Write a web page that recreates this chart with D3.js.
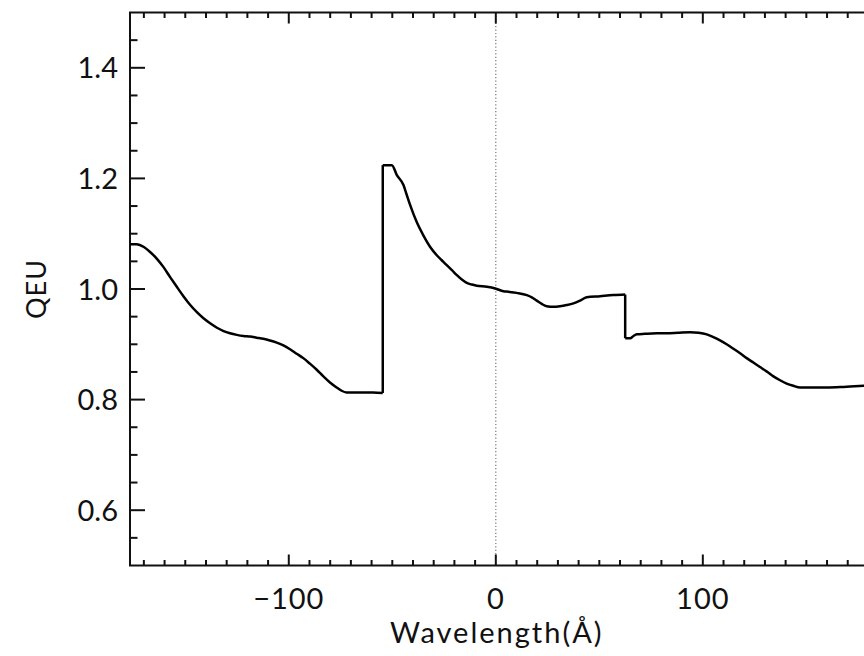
<!DOCTYPE html>
<html>
<head>
<meta charset="utf-8">
<script src="https://cdn.jsdelivr.net/npm/d3@7"></script>
<style>
  html, body { margin: 0; padding: 0; background: #fff; }
  svg { display: block; }
  text { font-family: Lato, "DejaVu Sans", sans-serif; fill: #111; }
</style>
</head>
<body>
<div class="chart"></div>
<script>
// QEU curve, in three pieces split at the two jumps
var seg1 = [
  [-176.6, 1.081], [-173.5, 1.081], [-170.0, 1.076], [-167.0, 1.067], [-163.8, 1.055],
  [-160.6, 1.040], [-157.4, 1.022], [-154.1, 1.004], [-150.9, 0.987], [-147.6, 0.971],
  [-144.4, 0.958], [-141.2, 0.947], [-138.0, 0.938], [-134.7, 0.930], [-131.5, 0.924],
  [-128.4, 0.920], [-125.1, 0.917], [-121.9, 0.915], [-118.7, 0.914], [-115.5, 0.912],
  [-112.3, 0.910], [-109.1, 0.907], [-105.8, 0.903], [-102.6, 0.898], [-99.4, 0.891],
  [-96.2, 0.883], [-93.0, 0.875], [-89.8, 0.865], [-86.5, 0.854], [-83.3, 0.842],
  [-80.1, 0.831], [-76.9, 0.822], [-74.5, 0.816], [-72.1, 0.813], [-68.0, 0.813],
  [-64.0, 0.813], [-59.3, 0.813], [-54.6, 0.812]
];
var seg2 = [
  [-54.6, 1.224], [-50.2, 1.224], [-47.8, 1.206], [-44.6, 1.188], [-43.0, 1.170],
  [-41.4, 1.152], [-38.2, 1.121], [-35.0, 1.097], [-31.7, 1.076], [-28.5, 1.061],
  [-26.1, 1.052], [-23.7, 1.043], [-21.2, 1.034], [-18.8, 1.025], [-16.4, 1.017],
  [-14.0, 1.011], [-11.6, 1.008], [-9.2, 1.006], [-4.3, 1.004], [-0.3, 1.001],
  [3.7, 0.996], [6.1, 0.995], [10.1, 0.993], [15.0, 0.989], [17.4, 0.985],
  [19.8, 0.979], [22.2, 0.973], [24.6, 0.969], [27.8, 0.968], [31.0, 0.969],
  [34.2, 0.971], [37.5, 0.974], [40.7, 0.979], [43.9, 0.985], [50.4, 0.987],
  [56.8, 0.989], [62.5, 0.990]
];
var seg3 = [
  [62.5, 0.911], [64.9, 0.911], [66.5, 0.915], [68.1, 0.918], [72.0, 0.919],
  [77.8, 0.920], [82.6, 0.920], [88.0, 0.921], [93.9, 0.922], [98.0, 0.921],
  [101.9, 0.918], [105.1, 0.913], [108.3, 0.907], [111.5, 0.900], [114.8, 0.892],
  [118.0, 0.884], [121.2, 0.875], [124.4, 0.867], [127.6, 0.859], [130.8, 0.851],
  [134.1, 0.842], [137.3, 0.835], [140.5, 0.829], [143.7, 0.825], [147.0, 0.822],
  [153.0, 0.822], [159.9, 0.822], [168.0, 0.823], [177.6, 0.825], [182.0, 0.826]
];
var segments = [seg1, seg2, seg3];

var xTicks = [-100, 0, 100];
var yTicks = [0.6, 0.8, 1.0, 1.2, 1.4];
var xLabel = "Wavelength(\u00c5)";
var yLabel = "QEU";

var width = 864, height = 656;
// right edge of the frame lies just outside the picture
var plot = { left: 130, right: 885, top: 12.5, bottom: 565.5 };

var x = d3.scaleLinear().domain([-176.7, 188]).range([plot.left, plot.right]);
var y = d3.scaleLinear().domain([0.5, 1.5]).range([plot.bottom, plot.top]);

var svg = d3.select(".chart").append("svg")
  .attr("width", width)
  .attr("height", height);

var pw = plot.right - plot.left, ph = plot.bottom - plot.top;
var xMajorLen = 11, yMajorLen = 15;

// zero line
svg.append("line")
  .attr("x1", x(0)).attr("x2", x(0))
  .attr("y1", plot.top).attr("y2", plot.bottom)
  .attr("stroke", "#777")
  .attr("stroke-width", 1.2)
  .attr("stroke-dasharray", "1.2,2.2");

// ticks: major + minor (x every 10, y every 0.05)
var xMinor = d3.range(-170, 190, 10);
var yMinor = d3.range(0.55, 1.5, 0.05);
var ticks = svg.append("g").attr("stroke", "#111").attr("stroke-width", 2);

xMinor.forEach(function(v) {
  var len = (Math.abs(v) % 100 === 0) ? xMajorLen : xMajorLen / 2;
  ticks.append("line").attr("x1", x(v)).attr("x2", x(v))
    .attr("y1", plot.bottom).attr("y2", plot.bottom - len);
  ticks.append("line").attr("x1", x(v)).attr("x2", x(v))
    .attr("y1", plot.top).attr("y2", plot.top + len);
});
yMinor.forEach(function(v) {
  var major = yTicks.some(function(t) { return Math.abs(t - v) < 1e-6; });
  var len = major ? yMajorLen : yMajorLen / 2;
  ticks.append("line").attr("y1", y(v)).attr("y2", y(v))
    .attr("x1", plot.left).attr("x2", plot.left + len);
  ticks.append("line").attr("y1", y(v)).attr("y2", y(v))
    .attr("x1", plot.right).attr("x2", plot.right - len);
});

// frame
svg.append("rect")
  .attr("x", plot.left).attr("y", plot.top)
  .attr("width", pw).attr("height", ph)
  .attr("fill", "none")
  .attr("stroke", "#111")
  .attr("stroke-width", 2);

// tick labels
svg.append("g").selectAll("text")
  .data(xTicks)
  .enter().append("text")
    .attr("x", function(d) { return x(d); })
    .attr("y", 609)
    .attr("text-anchor", "middle")
    .style("font-size", "29px")
    .style("letter-spacing", "1px")
    .text(function(d) { return d < 0 ? "\u2212" + Math.abs(d) : d; });

svg.append("g").selectAll("text")
  .data(yTicks)
  .enter().append("text")
    .attr("x", 118)
    .attr("y", function(d) { return y(d) + 10.5; })
    .attr("text-anchor", "end")
    .style("font-size", "29px")
    .text(function(d) { return d.toFixed(1); });

// axis titles
svg.append("text")
  .attr("x", x(0) + 1)
  .attr("y", 643)
  .attr("text-anchor", "middle")
  .style("font-size", "29px")
  .style("letter-spacing", "2px")
  .text(xLabel);

svg.append("text")
  .attr("transform", "translate(46," + y(1.0) + ") rotate(-90)")
  .attr("text-anchor", "middle")
  .style("font-size", "27px")
  .style("letter-spacing", "1px")
  .text(yLabel);

// curve
var line = d3.line()
  .x(function(d) { return x(d[0]); })
  .y(function(d) { return y(d[1]); });

var g = svg.append("g")
  .attr("fill", "none")
  .attr("stroke", "#000")
  .attr("stroke-width", 2.5)
  .attr("stroke-linejoin", "round");

segments.forEach(function(s, i) {
  g.append("path").attr("d", line.curve(d3.curveMonotoneX)(s));
  if (i < segments.length - 1) {
    var next = segments[i + 1];
    g.append("path").attr("d", line.curve(d3.curveLinear)([s[s.length - 1], next[0]]));
  }
});
</script>
</body>
</html>
